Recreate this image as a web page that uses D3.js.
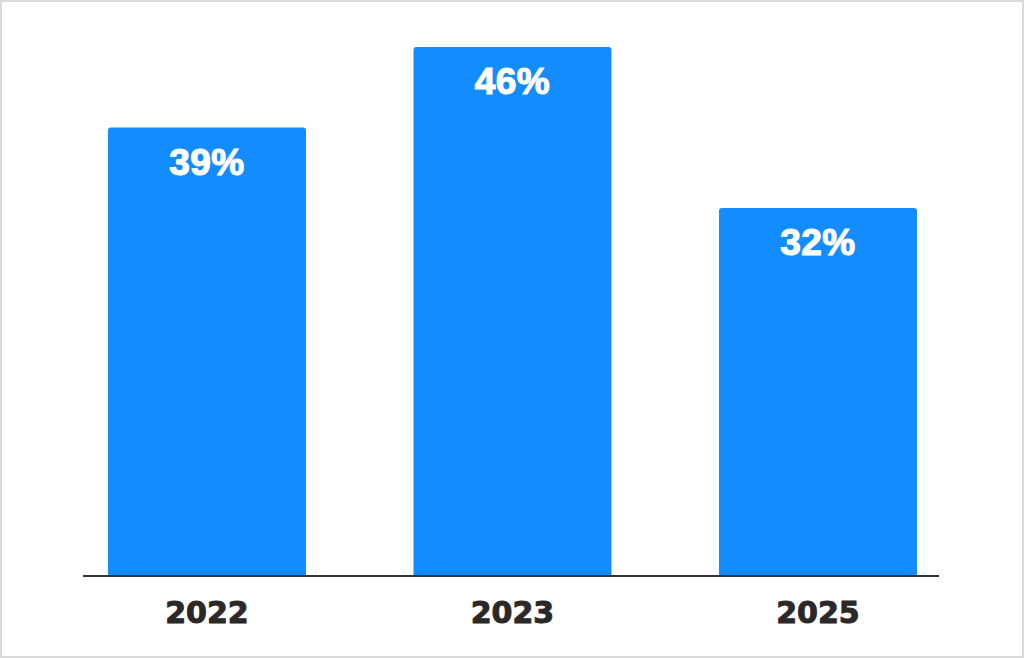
<!DOCTYPE html>
<html>
<head>
<meta charset="utf-8">
<script src="https://cdn.jsdelivr.net/npm/d3@7"></script>
<style>
  html, body { margin: 0; padding: 0; background: #fff; }
  #chart { width: 1024px; height: 658px; }
</style>
</head>
<body>
<div id="chart"></div>
<script>
// Chart data
const years = ["2022", "2023", "2025"];
const shares = [39, 46, 32];

const width = 1024;
const height = 658;

const svg = d3.select("#chart")
    .append("svg")
    .attr("width", width)
    .attr("height", height);

// Light grey frame round the picture
svg.append("rect")
    .attr("x", 1)
    .attr("y", 1)
    .attr("width", width - 2)
    .attr("height", height - 2)
    .attr("fill", "#fff")
    .attr("stroke", "#dadada")
    .attr("stroke-width", 2);

// Scales
const x = d3.scaleBand()
    .domain(years)
    .range([108, 917])
    .paddingInner(0.352)
    .paddingOuter(0);

const y = d3.scaleLinear()
    .domain([0, 50])
    .range([576, 1]);

// Bars with slightly rounded top corners
function barPath(x0, y0, w, h, r) {
    return `M${x0},${y0 + h}V${y0 + r}Q${x0},${y0} ${x0 + r},${y0}` +
        `H${x0 + w - r}Q${x0 + w},${y0} ${x0 + w},${y0 + r}V${y0 + h}Z`;
}

svg.append("g")
    .selectAll("path")
    .data(years)
    .enter()
    .append("path")
    .attr("d", (d, i) => barPath(x(d), y(shares[i]), x.bandwidth(), y(0) - y(shares[i]), 3))
    .attr("fill", "#128cff");

// Value labels inside the bars
svg.append("g")
    .selectAll("text")
    .data(years)
    .enter()
    .append("text")
    .attr("x", d => x(d) + x.bandwidth() / 2)
    .attr("y", (d, i) => y(shares[i]) + 47)
    .attr("text-anchor", "middle")
    .attr("fill", "#fff")
    .attr("stroke", "#fff")
    .attr("stroke-width", 1.2)
    .style("font-family", "'Liberation Sans', Arial, sans-serif")
    .style("font-weight", "bold")
    .style("font-size", "37px")
    .style("letter-spacing", "0.5px")
    .text((d, i) => shares[i] + "%");

// Baseline
svg.append("line")
    .attr("x1", 83)
    .attr("x2", 939)
    .attr("y1", y(0))
    .attr("y2", y(0))
    .attr("stroke", "#333")
    .attr("stroke-width", 2);

// Year labels
svg.append("g")
    .selectAll("text")
    .data(years)
    .enter()
    .append("text")
    .attr("x", d => x(d) + x.bandwidth() / 2)
    .attr("y", 623)
    .attr("text-anchor", "middle")
    .attr("fill", "#2b2828")
    .attr("stroke", "#2b2828")
    .attr("stroke-width", 1)
    .style("font-family", "'DejaVu Sans', sans-serif")
    .style("font-weight", "bold")
    .style("font-size", "30px")
    .text(d => d);
</script>
</body>
</html>
